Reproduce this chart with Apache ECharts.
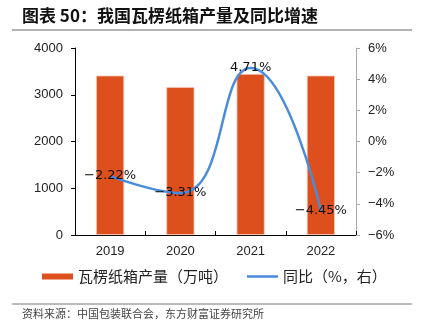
<!DOCTYPE html>
<html><head><meta charset="utf-8">
<script src="https://cdn.jsdelivr.net/npm/echarts@6/dist/echarts.min.js"></script>
<style>html,body{margin:0;padding:0;background:#fff}#c{width:423px;height:330px}</style>
</head><body><div id="c"></div>
<script>
const categories = ['2019', '2020', '2021', '2022'];
const production = [3410, 3165, 3445, 3410];
const yoy = [-2.22, -3.31, 4.71, -4.45];
const leftTicks = [0, 1000, 2000, 3000, 4000];
const rightTicks = [-6, -4, -2, 0, 2, 4, 6];
const seriesNames = ['瓦楞纸箱产量（万吨）', '同比（%，右）'];
const titleText = '图表 50：我国瓦楞纸箱产量及同比增速';
const sourceText = '资料来源：中国包装联合会，东方财富证券研究所';

const fmtPct = v => (v < 0 ? '\u2212' + Math.abs(v) : String(v)) + '%';
const fmtLabel = v => (v < 0 ? '\u2212' + Math.abs(v).toFixed(2) : v.toFixed(2)) + '%';

const chart = echarts.init(document.getElementById('c'), null, {renderer: 'canvas'});
chart.setOption({
  animation: false,
  textStyle: {fontFamily: 'Liberation Sans, Arial, sans-serif'},
  graphic: [
    {type: 'text', left: 22, top: 7, style: {text: titleText, font: 'bold 17px "Noto Sans CJK SC"', fill: '#111'}},
    {type: 'line', shape: {x1: 12, y1: 30, x2: 412, y2: 30}, style: {stroke: '#999', lineWidth: 1.5}},
    {type: 'line', shape: {x1: 12, y1: 304, x2: 412, y2: 304}, style: {stroke: '#777', lineWidth: 1}},
    {type: 'text', left: 22, top: 308, style: {text: sourceText, font: '11px "Noto Sans CJK SC"', fill: '#444'}}
  ],
  grid: {left: 75, right: 67, top: 48, bottom: 95},
  legend: {
    bottom: 41, left: 37, itemGap: 19, itemWidth: 31, itemHeight: 6,
    itemStyle: {borderWidth: 0},
    textStyle: {fontFamily: 'Noto Sans CJK SC', fontSize: 15, color: '#222'},
    data: [{name: seriesNames[0], icon: 'rect'},
           {name: seriesNames[1], icon: 'path://M0,0H31V2.5H0Z'}]
  },
  xAxis: {
    type: 'category', data: categories,
    axisLine: {lineStyle: {color: '#000', width: 1}},
    axisTick: {show: true, inside: true, length: 4, lineStyle: {color: '#000'}},
    axisLabel: {color: '#222', fontSize: 13, margin: 10}
  },
  yAxis: [
    {type: 'value', min: leftTicks[0], max: leftTicks[leftTicks.length - 1], interval: 1000,
     splitLine: {show: false},
     axisLine: {show: true, lineStyle: {color: '#000'}},
     axisTick: {show: true, length: 4, lineStyle: {color: '#000'}},
     axisLabel: {color: '#222', fontSize: 13, margin: 12, formatter: v => String(v)}},
    {type: 'value', min: rightTicks[0], max: rightTicks[rightTicks.length - 1], interval: 2,
     splitLine: {show: false},
     axisLine: {show: true, lineStyle: {color: '#aaa'}},
     axisTick: {show: true, length: 4, lineStyle: {color: '#aaa'}},
     axisLabel: {color: '#222', fontSize: 13, margin: 12, formatter: fmtPct}}
  ],
  series: [
    {name: seriesNames[0], type: 'bar', data: production, barWidth: '40%', yAxisIndex: 0,
     itemStyle: {color: '#DE4F1E', borderColor: '#F6C9B8', borderWidth: 0.8}},
    {name: seriesNames[1], type: 'line', data: yoy, yAxisIndex: 1, smooth: 0.5,
     symbol: 'circle', symbolSize: 0.01, showSymbol: true,
     lineStyle: {color: '#4A8BDB', width: 2.5}, itemStyle: {color: '#4A8BDB'},
     label: {show: true, position: [0, 0], align: 'center', verticalAlign: 'middle',
       formatter: p => fmtLabel(p.value),
       fontFamily: 'DejaVu Sans', fontSize: 13, color: '#111'}}
  ]
});
</script></body></html>
